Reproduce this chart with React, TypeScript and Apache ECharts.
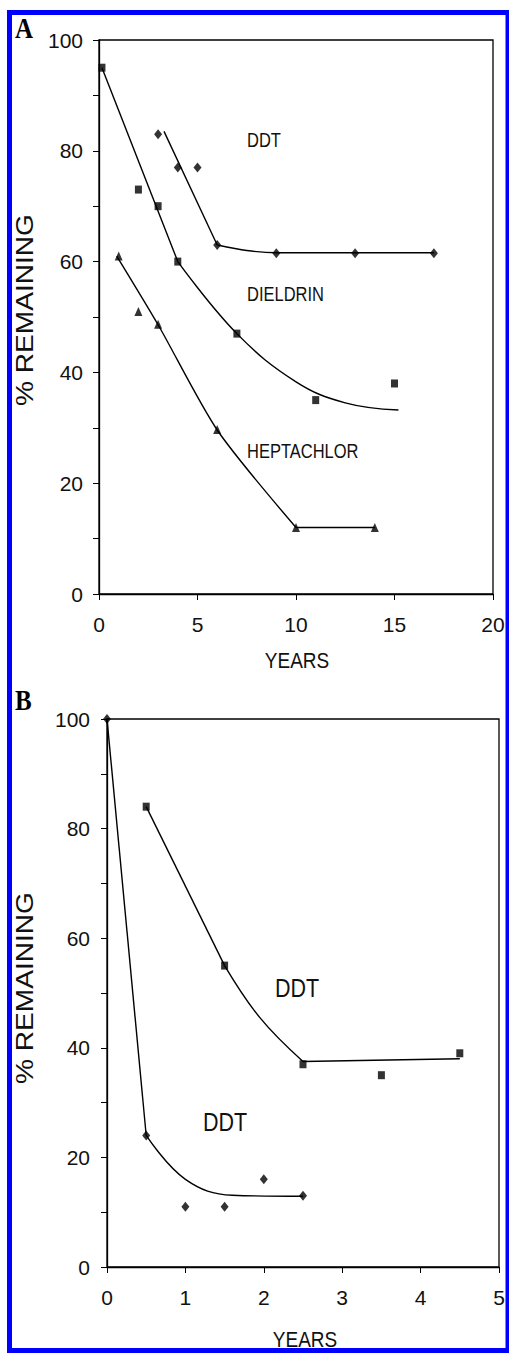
import React, { useEffect, useRef } from 'react';
import * as echarts from 'echarts';

// ---------- Panel A (years 0-20) ----------
const aXTicks = { min: 0, max: 20, step: 5 };
const aDdtYears = [3, 4, 5, 6, 9, 13, 17];
const aDdtPct = [83, 77, 77, 63, 61.5, 61.5, 61.5];
const aDieldrinYears = [0.15, 2, 3, 4, 7, 11, 15];
const aDieldrinPct = [95, 73, 70, 60, 47, 35, 38];
const aHeptYears = [1, 2, 3, 6, 10, 14];
const aHeptPct = [61, 51, 48.7, 29.7, 12, 12];

// fitted curves
const aDdtFitSteep = [[3.3, 83.5], [6, 63]];
const aDdtFitTail = [[6, 63], [7.5, 62], [9, 61.6], [17, 61.6]];
const aDieldrinFitSteep = [[0.15, 95], [4, 60]];
const aDieldrinFitTail = [[4, 60], [7, 47], [10, 38.3], [12.5, 34.5], [15.2, 33.2]];
const aHeptFitSteep = [[0.9, 61], [3, 48.6], [6, 29.6], [10, 12]];
const aHeptFitTail = [[10, 12], [14, 12]];

// ---------- Panel B (years 0-5) ----------
const bXTicks = { min: 0, max: 5, step: 1 };
const bUpperYears = [0.5, 1.5, 2.5, 3.5, 4.5];
const bUpperPct = [84, 55, 37, 35, 39];
const bLowerYears = [0, 0.5, 1, 1.5, 2, 2.5];
const bLowerPct = [100, 24, 11, 11, 16, 13];

const bUpperFitSteep = [[0.5, 84], [1.5, 55]];
const bUpperFitCurve = [[1.5, 55], [1.95, 45.5], [2.5, 37.5]];
const bUpperFitTail = [[2.5, 37.5], [4.5, 38]];
const bLowerFitSteep = [[0, 100], [0.5, 24]];
const bLowerFitTail = [[0.5, 24], [1, 16], [1.6, 13.1], [2.5, 12.9]];

const yRange = { min: 0, max: 100, step: 10, labelStep: 20 };

const FONT = '"Liberation Sans", Arial, sans-serif';
const SERIF = '"Liberation Serif", "Times New Roman", serif';
const STRETCH = 1.17;

function zip(xs: number[], ys: number[]) {
  return xs.map((x, i) => [x, ys[i]]);
}

function xAxis(gridIndex: number, t: { min: number; max: number; step: number }) {
  return {
    gridIndex,
    type: 'value',
    min: t.min,
    max: t.max,
    interval: t.step,
    axisLine: { show: true, onZero: false, lineStyle: { color: '#000', width: 1.3 } },
    axisTick: { show: true, length: 6, lineStyle: { color: '#000', width: 1 } },
    axisLabel: { color: '#111', fontSize: 21, fontFamily: FONT, margin: 20 },
    splitLine: { show: false },
  };
}

function yAxis(gridIndex: number, margin: number) {
  return {
    gridIndex,
    type: 'value',
    min: yRange.min,
    max: yRange.max,
    interval: yRange.step,
    axisLine: { show: true, onZero: false, lineStyle: { color: '#000', width: 1.3 } },
    axisTick: { show: true, length: 6, lineStyle: { color: '#000', width: 1 } },
    axisLabel: {
      color: '#111',
      fontSize: 21,
      fontFamily: FONT,
      margin,
      formatter: (v: number) => (v % yRange.labelStep === 0 ? String(v) : ''),
    },
    splitLine: { show: false },
  };
}

function points(name: string, idx: number, data: number[][], symbol: string, size: number[]) {
  return {
    name,
    type: 'scatter',
    xAxisIndex: idx,
    yAxisIndex: idx,
    data,
    symbol,
    symbolSize: size,
    itemStyle: { color: '#000' },
    z: 5,
  };
}

function fit(idx: number, data: number[][], smooth: number | boolean = false) {
  return {
    type: 'line',
    xAxisIndex: idx,
    yAxisIndex: idx,
    data,
    symbol: 'none',
    smooth,
    lineStyle: { color: '#000', width: 1.4 },
    z: 4,
  };
}

function label(text: string, x: number, y: number, size: number) {
  return {
    type: 'text',
    x,
    y,
    scaleY: STRETCH,
    style: { text, fill: '#111', font: `${size}px ${FONT}`, align: 'left', verticalAlign: 'middle' },
    z: 10,
  };
}

function centred(text: string, x: number, y: number, size: number) {
  return {
    type: 'text',
    x,
    y,
    scaleY: STRETCH,
    style: { text, fill: '#111', font: `${size}px ${FONT}`, align: 'center', verticalAlign: 'middle' },
    z: 10,
  };
}

function vertical(text: string, x: number, y: number, size: number) {
  return {
    type: 'text',
    x,
    y,
    rotation: Math.PI / 2,
    scaleX: STRETCH,
    style: { text, fill: '#111', font: `${size}px ${FONT}`, align: 'center', verticalAlign: 'middle' },
    z: 10,
  };
}

function panelLetter(text: string, x: number, y: number) {
  return {
    type: 'text',
    x,
    y,
    scaleY: STRETCH,
    style: { text, fill: '#000', font: `bold 25px ${SERIF}`, align: 'left', verticalAlign: 'middle' },
    z: 10,
  };
}

const option: any = {
  animation: false,
  backgroundColor: '#fff',
  grid: [
    { left: 99, top: 40, width: 394, height: 554, show: true, borderColor: '#000', borderWidth: 1.3, backgroundColor: 'transparent' },
    { left: 107, top: 719, width: 392, height: 548, show: true, borderColor: '#000', borderWidth: 1.3, backgroundColor: 'transparent' },
  ],
  xAxis: [xAxis(0, aXTicks), xAxis(1, bXTicks)],
  yAxis: [yAxis(0, 16), yAxis(1, 17)],
  series: [
    points('DDT', 0, zip(aDdtYears, aDdtPct), 'diamond', [8, 10]),
    points('DIELDRIN', 0, zip(aDieldrinYears, aDieldrinPct), 'rect', [7, 8]),
    points('HEPTACHLOR', 0, zip(aHeptYears, aHeptPct), 'triangle', [8, 9]),
    fit(0, aDdtFitSteep),
    fit(0, aDdtFitTail, 0.3),
    fit(0, aDieldrinFitSteep),
    fit(0, aDieldrinFitTail, 0.4),
    fit(0, aHeptFitSteep, 0.25),
    fit(0, aHeptFitTail),
    points('DDT upper', 1, zip(bUpperYears, bUpperPct), 'rect', [7, 8]),
    points('DDT lower', 1, zip(bLowerYears, bLowerPct), 'diamond', [8, 10]),
    fit(1, bUpperFitSteep),
    fit(1, bUpperFitCurve, 0.4),
    fit(1, bUpperFitTail),
    fit(1, bLowerFitSteep),
    fit(1, bLowerFitTail, 0.4),
  ],
  graphic: [
    {
      type: 'rect',
      shape: { x: 9.5, y: 12.5, width: 498.5, height: 1338 },
      style: { fill: 'none', stroke: '#0000ff', lineWidth: 5 },
      z: 20,
    },
    panelLetter('A', 15, 28),
    panelLetter('B', 15, 700),
    label('DDT', 247, 141, 16.5),
    label('DIELDRIN', 247, 295, 16.5),
    label('HEPTACHLOR', 247, 452, 16.5),
    label('DDT', 275, 988, 21.5),
    label('DDT', 203, 1122, 21.5),
    centred('YEARS', 297, 660, 19),
    centred('YEARS', 305, 1339, 19),
    vertical('% REMAINING', 25, 310, 24),
    vertical('% REMAINING', 25, 988, 24),
  ],
};

export default function App() {
  const ref = useRef<HTMLDivElement>(null);
  useEffect(() => {
    if (!ref.current) return;
    const chart = echarts.init(ref.current, null, { renderer: 'svg' });
    chart.setOption(option);
    return () => chart.dispose();
  }, []);
  return (
    <div
      ref={ref}
      style={{ position: 'absolute', left: 0, top: 0, width: 509, height: 1353, background: '#fff' }}
    />
  );
}
